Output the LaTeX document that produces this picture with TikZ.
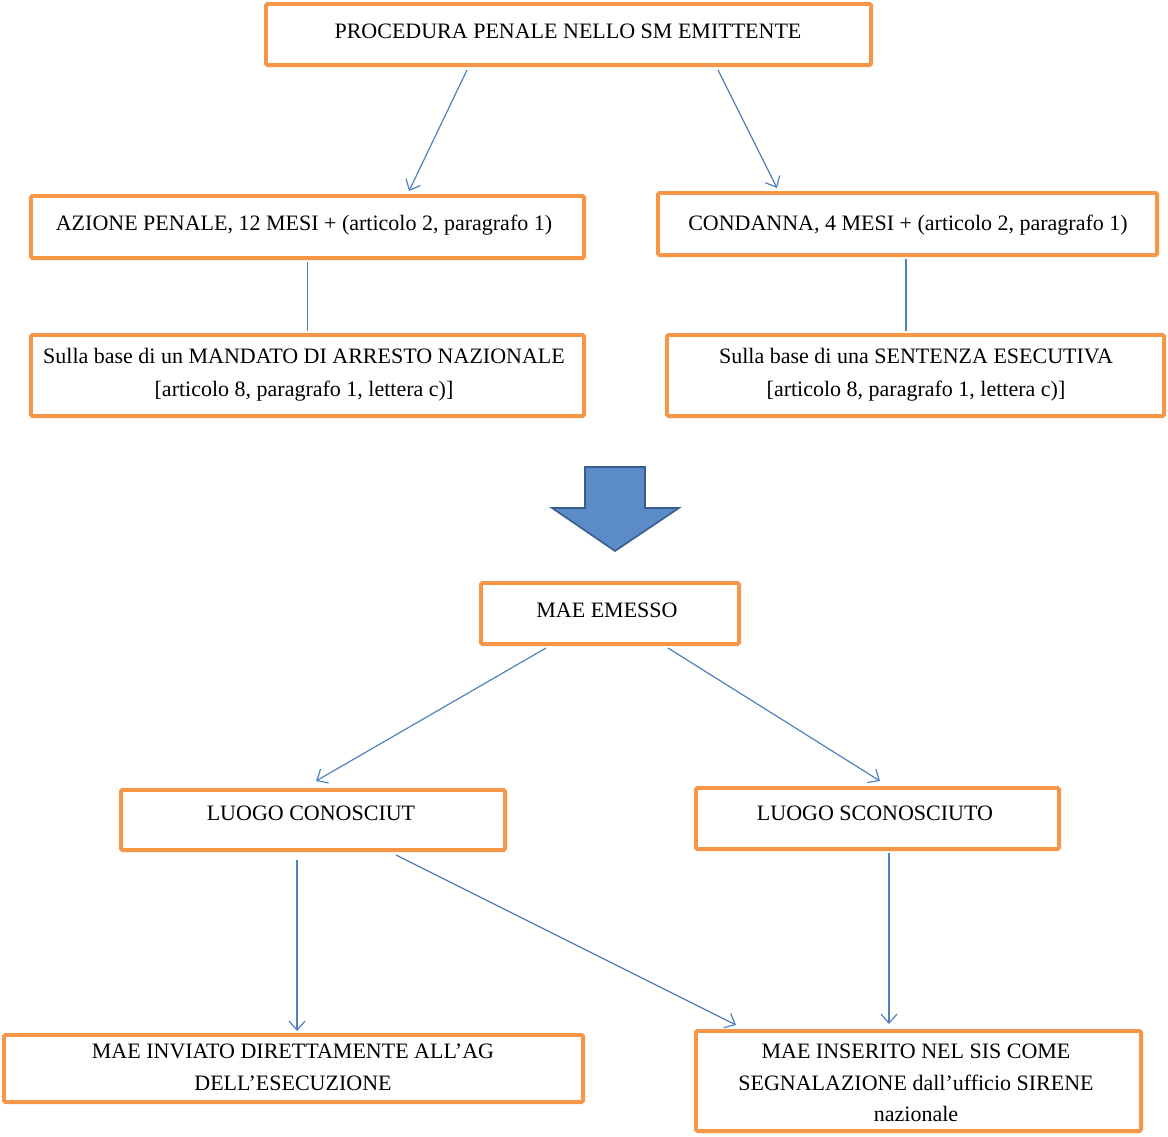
\documentclass[tikz,border=0pt]{standalone}
\usepackage{fontspec}
\setmainfont{Liberation Serif}
\usetikzlibrary{arrows.meta}
\definecolor{boxorange}{RGB}{247,150,70}
\definecolor{linkblue}{RGB}{79,129,189}
\definecolor{arrowfill}{RGB}{91,140,200}
\definecolor{arrowedge}{RGB}{56,93,140}
\begin{document}
\begin{tikzpicture}[x=1pt,y=-1pt,
  box/.style={draw=boxorange,line width=3.8pt,rounded corners=1.5pt,fill=white,inner sep=0pt},
  lbl/.style={anchor=base,inner sep=0pt,font=\fontsize{22}{32}\selectfont,align=center},
  link/.style={draw=linkblue,line width=1.2pt},
  linkarrow/.style={link,-{Straight Barb[length=9pt,width=16pt,line width=1.2pt]}}
]
\useasboundingbox (0,0) rectangle (1168,1136);
% boxes (minimum size = outer size minus line width)
\node[box,minimum width=605.2pt,minimum height=61.2pt] (top) at (568.5,34.5) {};
\node[box,minimum width=553.2pt,minimum height=62.2pt] (azione) at (307.5,227) {};
\node[box,minimum width=499.2pt,minimum height=62.2pt] (condanna) at (907.5,224) {};
\node[box,minimum width=553.2pt,minimum height=81.2pt] (mandato) at (307.5,375.5) {};
\node[box,minimum width=497.2pt,minimum height=81.2pt] (sentenza) at (915.5,375.5) {};
\node[box,minimum width=258.2pt,minimum height=61.2pt] (emesso) at (610,613.5) {};
\node[box,minimum width=384.2pt,minimum height=60.2pt] (noto) at (313,820) {};
\node[box,minimum width=363.2pt,minimum height=61.2pt] (ignoto) at (877.5,818.5) {};
\node[box,minimum width=579.2pt,minimum height=67.2pt] (inviato) at (293.5,1068.5) {};
\node[box,minimum width=445.2pt,minimum height=100.2pt] (inserito) at (918.5,1081) {};
% texts
\node[lbl] (ttop) at (568,38) {PROCEDURA PENALE NELLO SM EMITTENTE};
\node[lbl] (tazione) at (304,230) {AZIONE PENALE, 12 MESI + (articolo 2, paragrafo 1)};
\node[lbl] (tcondanna) at (908,230) {CONDANNA, 4 MESI + (articolo 2, paragrafo 1)};
\node[lbl] (tmandato1) at (304,363) {Sulla base di un MANDATO DI ARRESTO NAZIONALE};
\node[lbl] (tmandato2) at (304,396) {[articolo 8, paragrafo 1, lettera c)]};
\node[lbl] (tsentenza1) at (916,363) {Sulla base di una SENTENZA ESECUTIVA};
\node[lbl] (tsentenza2) at (916,396) {[articolo 8, paragrafo 1, lettera c)]};
\node[lbl] (temesso) at (607,617) {MAE EMESSO};
\node[lbl] (tnoto) at (311,820) {LUOGO CONOSCIUT};
\node[lbl] (tignoto) at (875,820) {LUOGO SCONOSCIUTO};
\node[lbl] (tinviato1) at (293,1058) {MAE INVIATO DIRETTAMENTE ALL’AG};
\node[lbl] (tinviato2) at (293,1090) {DELL’ESECUZIONE};
\node[lbl] (tinserito1) at (916,1058) {MAE INSERITO NEL SIS COME};
\node[lbl] (tinserito2) at (916,1090) {SEGNALAZIONE dall’ufficio SIRENE};
\node[lbl] (tinserito3) at (916,1121) {nazionale};
% big block arrow
\draw[fill=arrowfill,draw=arrowedge,line width=1.6pt,line join=miter]
  (585,467) -- (645,467) -- (645,508) -- (679,508) -- (615,551) -- (552,508) -- (585,508) -- cycle;
% connectors
\draw[linkarrow] ([xshift=-101.5pt,yshift=-3pt]top.south) -- ([xshift=101.5pt,yshift=3pt]azione.north);
\draw[linkarrow] ([xshift=149.5pt,yshift=-3pt]top.south) -- ([xshift=-130.5pt,yshift=3pt]condanna.north);
\draw[link] ([yshift=-2pt]azione.south) -- ([yshift=2pt]mandato.north);
\draw[link] ([xshift=-1.5pt,yshift=-2pt]condanna.south) -- ([xshift=-9.5pt,yshift=2pt]sentenza.north);
\draw[linkarrow] ([xshift=-64pt,yshift=-2pt]emesso.south) -- ([xshift=3pt,yshift=7pt]noto.north);
\draw[linkarrow] ([xshift=58pt,yshift=-2pt]emesso.south) -- ([xshift=2.5pt,yshift=5pt]ignoto.north);
\draw[linkarrow] ([xshift=-16pt,yshift=-8pt]noto.south) -- ([xshift=3.5pt,yshift=2pt]inviato.north);
\draw[linkarrow] ([xshift=83pt,yshift=-3pt]noto.south) -- ([xshift=-182.5pt,yshift=4pt]inserito.north);
\draw[linkarrow] ([xshift=11.5pt,yshift=-2pt]ignoto.south) -- ([xshift=-29.5pt,yshift=5pt]inserito.north);
\end{tikzpicture}
\end{document}
